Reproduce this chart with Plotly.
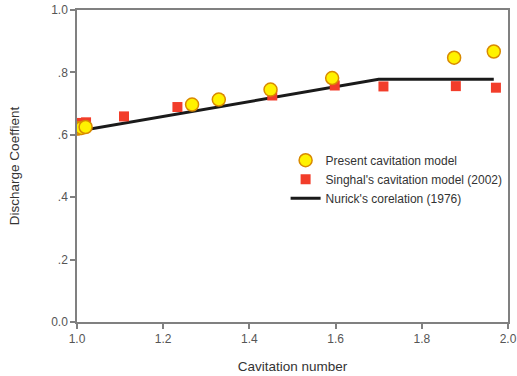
import plotly.graph_objects as go

# Present cavitation model
present_x = [1.000, 1.005, 1.011, 1.020, 1.267, 1.329, 1.449, 1.592, 1.875, 1.967]
present_y = [0.620, 0.621, 0.622, 0.625, 0.697, 0.713, 0.745, 0.782, 0.847, 0.867]

# Singhal's cavitation model (2002)
singhal_x = [1.008, 1.021, 1.109, 1.233, 1.330, 1.453, 1.598, 1.711, 1.879, 1.972]
singhal_y = [0.638, 0.640, 0.659, 0.689, 0.714, 0.726, 0.758, 0.755, 0.756, 0.751]

# Nurick's corelation (1976)
nurick_x = [1.000, 1.700, 1.967]
nurick_y = [0.611, 0.778, 0.778]

x_ticks = [1.0, 1.2, 1.4, 1.6, 1.8, 2.0]
x_ticklabels = ["1.0", "1.2", "1.4", "1.6", "1.8", "2.0"]
y_ticks = [0.0, 0.2, 0.4, 0.6, 0.8, 1.0]
y_ticklabels = ["0.0", ".2", ".4", ".6", ".8", "1.0"]

font = "Liberation Sans, Arial, sans-serif"

fig = go.Figure()
fig.add_trace(go.Scatter(
    x=nurick_x, y=nurick_y, mode="lines", name="Nurick's corelation (1976)",
    line=dict(color="#1a1a1a", width=3), legendrank=3))
fig.add_trace(go.Scatter(
    x=singhal_x, y=singhal_y, mode="markers", name="Singhal's cavitation model (2002)",
    marker=dict(symbol="square", size=10, color="#F23D2A", line=dict(width=0)), legendrank=2))
fig.add_trace(go.Scatter(
    x=present_x, y=present_y, mode="markers", name="Present cavitation model",
    marker=dict(symbol="circle", size=13, color="#FFF200", line=dict(color="#D98A00", width=1.5)),
    legendrank=1))

axis_common = dict(
    showgrid=False, zeroline=False, showline=True, mirror=True,
    linecolor="#808080", linewidth=1.5, ticks="outside", ticklen=5,
    tickcolor="#808080", tickwidth=1.5, automargin=False,
    tickfont=dict(family=font, size=12, color="#555555"),
)

fig.update_layout(
    width=517, height=376,
    margin=dict(l=77, r=9, t=10, b=54),
    paper_bgcolor="white", plot_bgcolor="white",
    font=dict(family=font, color="#333333"),
    showlegend=True,
    legend=dict(x=0.484, y=0.565, xanchor="left", yanchor="top",
                bgcolor="rgba(0,0,0,0)", font=dict(family=font, size=12, color="#333333"),
                tracegroupgap=0, itemsizing="trace"),
    xaxis=dict(range=[1.0, 2.0], tickvals=x_ticks, ticktext=x_ticklabels,
               title=dict(text="Cavitation number", font=dict(family=font, size=13.5, color="#333333"),
                          standoff=16),
               **axis_common),
    yaxis=dict(range=[0.0, 1.0], tickvals=y_ticks, ticktext=y_ticklabels,
               title=dict(text="Discharge Coeffient", font=dict(family=font, size=13.5, color="#333333"),
                          standoff=28),
               **axis_common),
)

fig.write_html("out.html")
